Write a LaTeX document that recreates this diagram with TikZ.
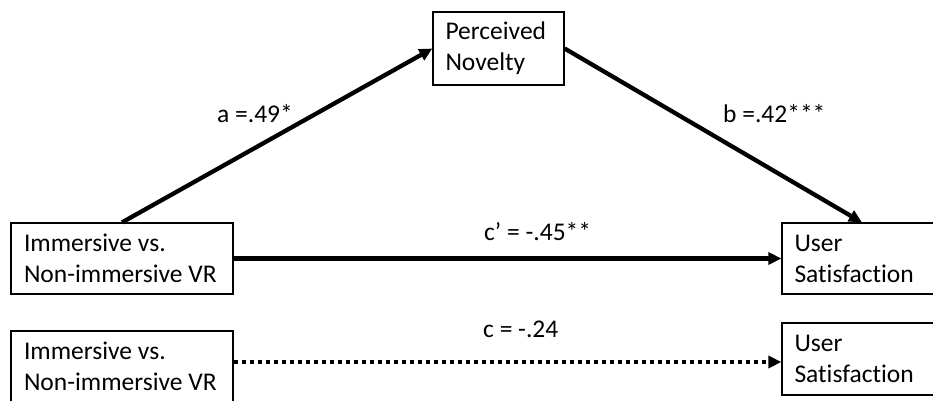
\documentclass[tikz,border=0pt]{standalone}
\usepackage{fontspec}
\setmainfont{Carlito}[Ligatures=NoCommon]
\usepackage{tikz}
\usetikzlibrary{arrows.meta,positioning,calc}
\definecolor{ink}{RGB}{0,0,0}
\tikzset{
  varbox/.style={draw=ink,line width=1.2pt,fill=white,inner sep=0pt,
    font=\fontsize{25.5}{31}\selectfont,align=left,anchor=center},
  arr/.style={-{Triangle[length=13pt,width=12pt]},line width=4.3pt,ink},
  dotarr/.style={-{Triangle[length=13pt,width=12pt]},line width=4.3pt,ink,
    dash pattern=on 4pt off 4pt},
  coef/.style={font=\fontsize{25.5}{31}\selectfont,text=ink,inner sep=0pt,
    anchor=base west},
}

\begin{document}
\begin{tikzpicture}[x=1pt,y=-1pt]
  \clip (0,0) rectangle (933,401);
  \fill[white] (0,0) rectangle (933,401);

  % mediation model
  \node[varbox,minimum width=222pt,minimum height=71pt] (iv1) at (122,258.5)
    {\hspace*{10pt}\parbox[c][71pt][c]{206pt}{Immersive vs.\\Non-immersive VR}};
  \node[varbox,minimum width=131pt,minimum height=73pt] (pn) at (498.5,48.5)
    {\hspace*{10pt}\parbox[c][73pt][c]{116pt}{Perceived\\Novelty}};
  \node[varbox,minimum width=160pt,minimum height=71pt] (us1) at (862,258.5)
    {\hspace*{10pt}\parbox[c][71pt][c]{145pt}{User\\Satisfaction}};

  % total effect
  \node[varbox,minimum width=222pt,minimum height=71pt] (iv2) at (122,366.5)
    {\hspace*{10pt}\parbox[c][71pt][c]{206pt}{Immersive vs.\\Non-immersive VR}};
  \node[varbox,minimum width=160pt,minimum height=72pt] (us2) at (862,359)
    {\hspace*{10pt}\parbox[c][72pt][c]{145pt}{User\\Satisfaction}};

  % paths
  \draw[arr] (iv1.north) -- (pn.west);
  \draw[arr] (pn.east) -- (us1.north);
  \draw[arr] (iv1.east) -- (us1.west);
  \coordinate (c2end) at (us2.west |- 0,362);
  \draw[dotarr] (iv2.east |- c2end) -- (c2end);

  % coefficients
  \node[coef] (la) at (217,122) {a =.49*};
  \node[coef] (lb) at (723,122) {b =.42***};
  \node[coef] (lc1) at (484,240) {c’ = -.45**};
  \node[coef] (lc2) at (483,337) {c = -.24};
\end{tikzpicture}
\end{document}
